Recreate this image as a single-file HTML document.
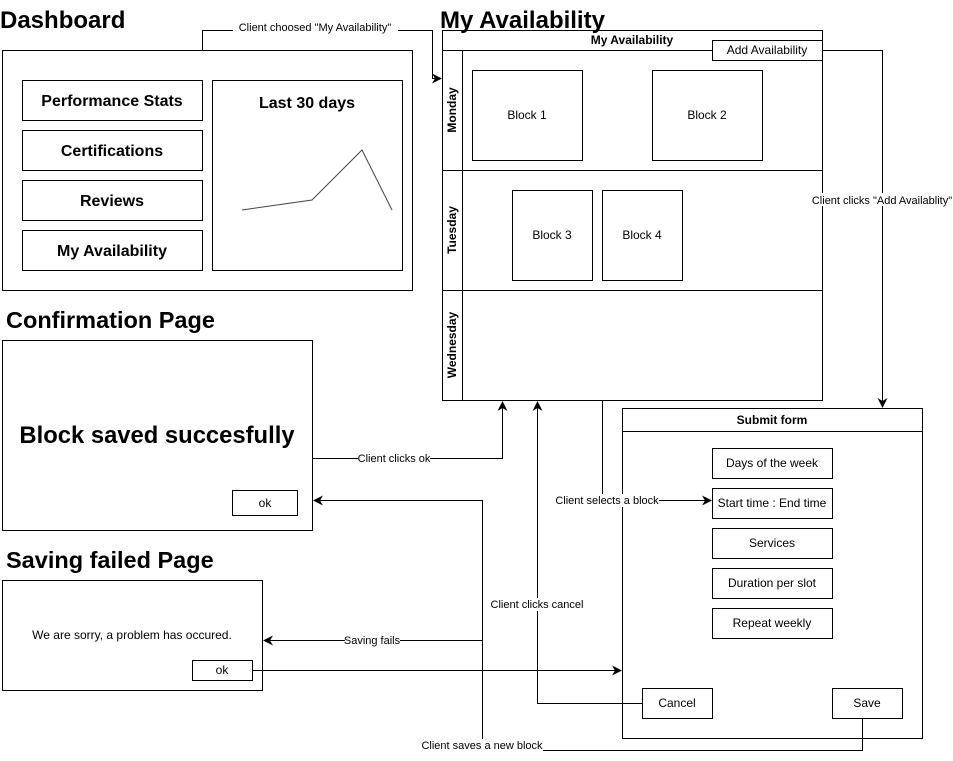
<!DOCTYPE html>
<html><head><meta charset="utf-8"><style>
html,body{margin:0;padding:0;background:#fff;}
svg{display:block;font-family:"Liberation Sans",sans-serif;}
</style></head><body>
<svg width="953" height="761" viewBox="0 0 953 761" xmlns="http://www.w3.org/2000/svg">
<defs>
<marker id="a" markerWidth="10" markerHeight="10" refX="9" refY="5" orient="auto" markerUnits="userSpaceOnUse">
<path d="M0,0 L10,5 L0,10 L3,5 Z" fill="#000"/></marker>
</defs>
<g fill="#fff" stroke="#000" stroke-width="1">
<rect x="2.5" y="50.5" width="410" height="240"/>
<rect x="22.5" y="80.5" width="180" height="40"/>
<rect x="22.5" y="130.5" width="180" height="40"/>
<rect x="22.5" y="180.5" width="180" height="40"/>
<rect x="22.5" y="230.5" width="180" height="40"/>
<rect x="212.5" y="80.5" width="190" height="190"/>
<polyline points="242,210 312,200 362,150 392,210" fill="none" stroke="#444"/>
<rect x="442.5" y="30.5" width="380" height="370"/>
<line x1="442.5" y1="50.5" x2="822.5" y2="50.5"/>
<line x1="462.5" y1="50.5" x2="462.5" y2="400.5"/>
<line x1="442.5" y1="170.5" x2="822.5" y2="170.5"/>
<line x1="442.5" y1="290.5" x2="822.5" y2="290.5"/>
<rect x="712.5" y="40.5" width="110" height="20"/>
<rect x="472.5" y="70.5" width="110" height="90"/>
<rect x="652.5" y="70.5" width="110" height="90"/>
<rect x="512.5" y="190.5" width="80" height="90"/>
<rect x="602.5" y="190.5" width="80" height="90"/>
<rect x="622.5" y="408.5" width="300" height="330"/>
<line x1="622.5" y1="431.5" x2="922.5" y2="431.5"/>
<rect x="712.5" y="448.5" width="120" height="30"/>
<rect x="712.5" y="488.5" width="120" height="30"/>
<rect x="712.5" y="528.5" width="120" height="30"/>
<rect x="712.5" y="568.5" width="120" height="30"/>
<rect x="712.5" y="608.5" width="120" height="30"/>
<rect x="642.5" y="688.5" width="70" height="30"/>
<rect x="832.5" y="688.5" width="70" height="30"/>
<rect x="2.5" y="340.5" width="310" height="190"/>
<rect x="232.5" y="490.5" width="65" height="25"/>
<rect x="2.5" y="580.5" width="260" height="110"/>
<rect x="192.5" y="660.5" width="60" height="20"/>
</g>
<g fill="none" stroke="#000" stroke-width="1">
<polyline points="202.5,50 202.5,30.5 432.5,30.5 432.5,78.5 441,78.5" marker-end="url(#a)"/>
<polyline points="822.5,50.5 882.5,50.5 882.5,407" marker-end="url(#a)"/>
<polyline points="312.5,458.5 502.5,458.5 502.5,402" marker-end="url(#a)"/>
<polyline points="602.5,400.5 602.5,500.5 711,500.5" marker-end="url(#a)"/>
<polyline points="642.5,703.5 537.5,703.5 537.5,402" marker-end="url(#a)"/>
<polyline points="862.5,718.5 862.5,750.5 482.5,750.5 482.5,500.5 314,500.5" marker-end="url(#a)"/>
<polyline points="482.5,640.5 264,640.5" marker-end="url(#a)"/>
<polyline points="252.5,670.5 621,670.5" marker-end="url(#a)"/>
</g>
<g fill="#fff">
<rect x="233" y="21" width="165" height="13"/>
<rect x="813" y="193" width="139" height="13"/>
<rect x="358" y="452" width="72" height="13"/>
<rect x="556" y="494" width="103" height="13"/>
<rect x="491" y="598" width="93" height="13"/>
<rect x="345" y="634" width="55" height="13"/>
<rect x="422" y="739" width="121" height="13"/>
</g>
<g fill="#000" text-anchor="middle" style="font-size:11px">
<text x="315" y="31">Client choosed "My Availability"</text>
<text x="882" y="204">Client clicks "Add Availablity"</text>
<text x="394" y="462">Client clicks ok</text>
<text x="607" y="504">Client selects a block</text>
<text x="537" y="608">Client clicks cancel</text>
<text x="372" y="644">Saving fails</text>
<text x="482" y="749">Client saves a new block</text>
</g>
<g font-weight="bold" fill="#000">
<text x="0" y="28" font-size="24">Dashboard</text>
<text x="440" y="28" font-size="24">My Availability</text>
<text x="6" y="328" font-size="23.5">Confirmation Page</text>
<text x="6" y="568" font-size="23.5">Saving failed Page</text>
<g font-size="16" text-anchor="middle">
<text x="112" y="106">Performance Stats</text>
<text x="112" y="156">Certifications</text>
<text x="112" y="206">Reviews</text>
<text x="112" y="256">My Availability</text>
<text x="307" y="108">Last 30 days</text>
</g>
<text x="157" y="443" font-size="23.8" text-anchor="middle">Block saved succesfully</text>
<g font-size="12" text-anchor="middle">
<text x="632" y="44">My Availability</text>
<text x="772" y="424">Submit form</text>
<text transform="translate(456,110) rotate(-90)">Monday</text>
<text transform="translate(456,230) rotate(-90)">Tuesday</text>
<text transform="translate(456,345) rotate(-90)">Wednesday</text>
</g>
</g>
<g font-size="12" fill="#000" text-anchor="middle">
<text x="767" y="54">Add Availability</text>
<text x="527" y="119">Block 1</text>
<text x="707" y="119">Block 2</text>
<text x="552" y="239">Block 3</text>
<text x="642" y="239">Block 4</text>
<text x="772" y="467">Days of the week</text>
<text x="772" y="507">Start time : End time</text>
<text x="772" y="547">Services</text>
<text x="772" y="587">Duration per slot</text>
<text x="772" y="627">Repeat weekly</text>
<text x="677" y="707">Cancel</text>
<text x="867" y="707">Save</text>
<text x="265" y="507">ok</text>
<text x="132" y="639">We are sorry, a problem has occured.</text>
<text x="222" y="674">ok</text>
</g>
</svg>
</body></html>
